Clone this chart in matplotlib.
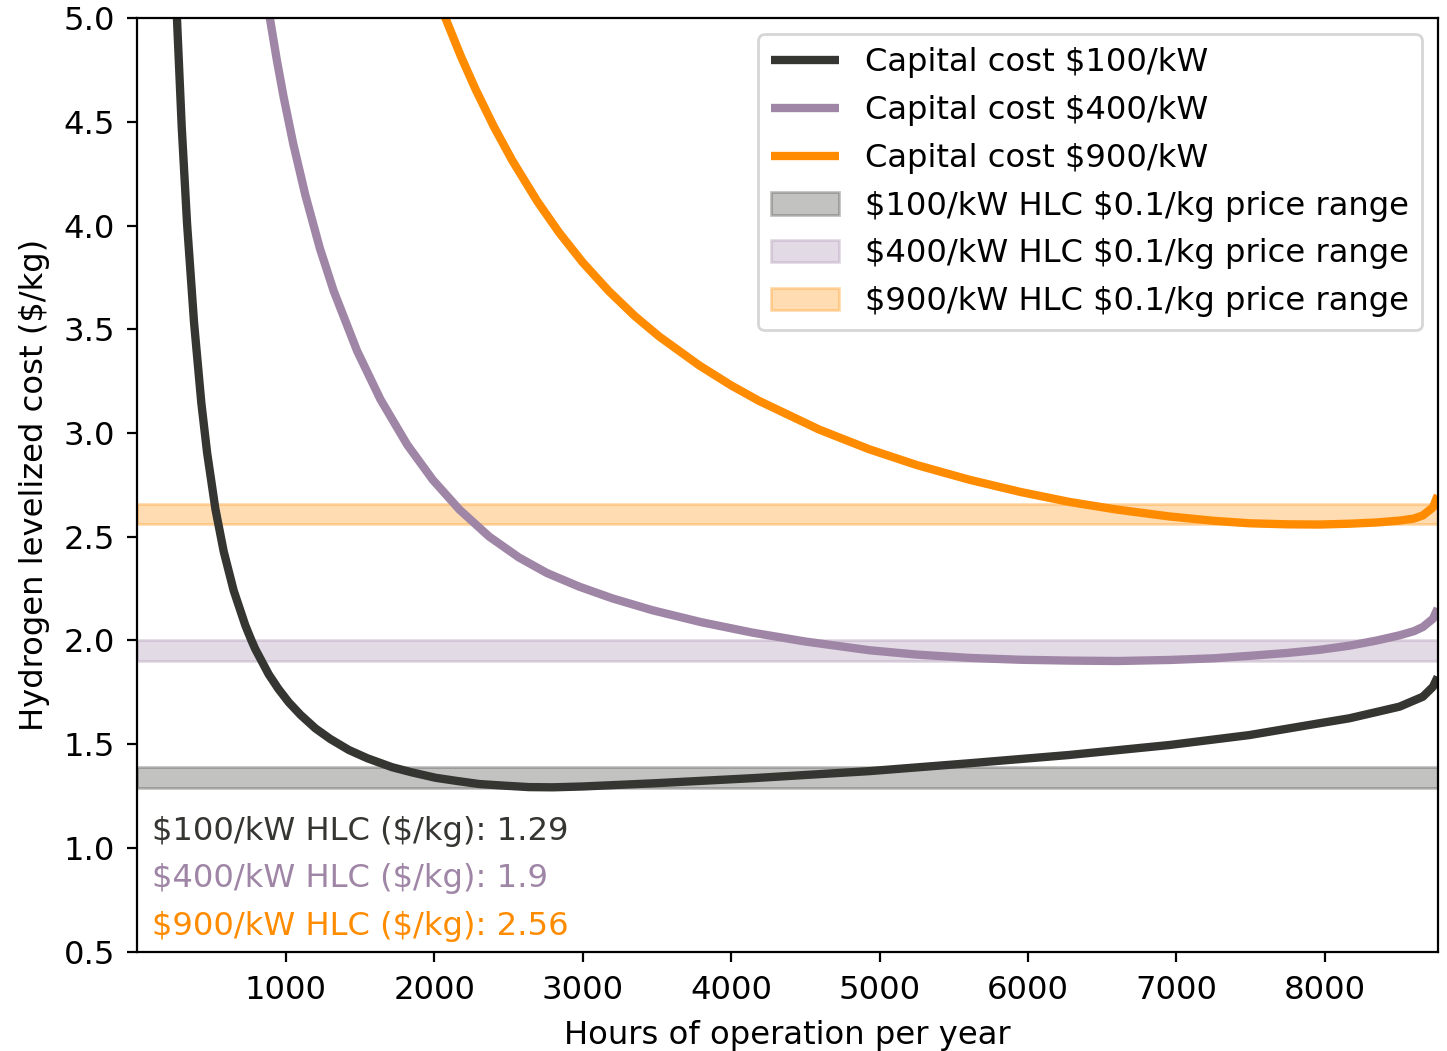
import matplotlib
matplotlib.use("Agg")
import matplotlib.pyplot as plt

# ---- data ----
hours_100 = [240, 267, 299, 335, 382, 431, 470, 526, 582, 649, 728, 769, 795, 885, 950,
             1020, 1100, 1200, 1300, 1425, 1550, 1716, 1850, 2009, 2150, 2301, 2450, 2638,
             2800, 3000, 3469, 4143, 4930, 5605, 6279, 6953, 7492, 7964, 8166, 8503, 8660,
             8728, 8760]
hlc_100 = [5.55, 5.00, 4.478, 4.011, 3.534, 3.147, 2.906, 2.634, 2.429, 2.241, 2.072, 2.00,
           1.958, 1.837, 1.767, 1.702, 1.641, 1.576, 1.525, 1.472, 1.432, 1.389, 1.364,
           1.338, 1.323, 1.308, 1.301, 1.293, 1.292, 1.296, 1.311, 1.336, 1.37, 1.408,
           1.448, 1.496, 1.544, 1.601, 1.625, 1.681, 1.729, 1.777, 1.825]

hours_400 = [860, 893, 940, 986, 1050, 1132, 1230, 1323, 1480, 1638, 1818, 1990, 2170,
             2370, 2571, 2760, 2975, 3200, 3469, 3800, 4143, 4500, 4930, 5250, 5605, 5950,
             6279, 6600, 6953, 7250, 7492, 7750, 7964, 8166, 8350, 8503, 8600, 8660, 8728,
             8760]
hlc_400 = [5.14, 5.00, 4.798, 4.619, 4.396, 4.147, 3.89, 3.685, 3.397, 3.162, 2.944, 2.775,
           2.631, 2.501, 2.40, 2.325, 2.26, 2.203, 2.146, 2.088, 2.038, 1.995, 1.953, 1.932,
           1.916, 1.907, 1.903, 1.901, 1.906, 1.914, 1.926, 1.94, 1.955, 1.975, 2.0, 2.025,
           2.045, 2.065, 2.105, 2.155]

hours_900 = [2000, 2076, 2180, 2279, 2400, 2526, 2694, 2840, 3000, 3177, 3350, 3515, 3784,
             4000, 4189, 4593, 4930, 5250, 5605, 5950, 6279, 6600, 6953, 7250, 7492, 7750,
             7964, 8166, 8350, 8503, 8600, 8660, 8728, 8760]
hlc_900 = [5.146, 5.00, 4.816, 4.657, 4.48, 4.314, 4.118, 3.968, 3.823, 3.684, 3.565, 3.466,
           3.327, 3.23, 3.155, 3.017, 2.922, 2.846, 2.775, 2.716, 2.668, 2.631, 2.598,
           2.577, 2.565, 2.560, 2.559, 2.563, 2.569, 2.578, 2.588, 2.603, 2.642, 2.70]

capex_labels = ["\\$100/kW", "\\$400/kW", "\\$900/kW"]
min_hlc = [1.29, 1.9, 2.56]
band_width = 0.1
colors = ["#353531", "#a086a6", "#ff8c00"]

x_min, x_max = 1, 8760
y_min, y_max = 0.5, 5.0
x_ticks = [1000, 2000, 3000, 4000, 5000, 6000, 7000, 8000]
y_ticks = [0.5, 1.0, 1.5, 2.0, 2.5, 3.0, 3.5, 4.0, 4.5, 5.0]

# ---- plotting ----
FS = 11.6
plt.rcParams["font.family"] = ["DejaVu Sans"]
plt.rcParams["font.size"] = FS

fig = plt.figure(figsize=(7.235, 5.255), dpi=200)
ax = fig.add_axes([0.0950, 0.0946, 0.9936 - 0.0950, 0.9826 - 0.0946])

series = [(hours_100, hlc_100), (hours_400, hlc_400), (hours_900, hlc_900)]
for (h, v), lab, c in zip(series, capex_labels, colors):
    ax.plot(h, v, color=c, lw=3, label="Capital cost " + lab,
            solid_capstyle="butt", solid_joinstyle="round")

xs = [x_min, x_max]
for lab, m, c in zip(capex_labels, min_hlc, colors):
    ax.fill_between(xs, [m, m], [m + band_width, m + band_width], color=c, alpha=0.3,
                    label=f"{lab} HLC \\$0.1/kg price range")

ax.set_xlim(x_min, x_max)
ax.set_ylim(y_min, y_max)
ax.set_xticks(x_ticks)
ax.set_yticks(y_ticks)
ax.set_yticklabels([f"{t:.1f}" for t in y_ticks])
ax.tick_params(axis="x", labelsize=FS, pad=5)
ax.tick_params(axis="y", labelsize=FS, pad=4.5)
ax.set_xlabel("Hours of operation per year", fontsize=FS, labelpad=5)
ax.set_ylabel("Hydrogen levelized cost (\\$/kg)", fontsize=FS, labelpad=5)

ax.legend(loc="upper right", fontsize=FS, labelspacing=0.52, handlelength=2.1)

text_y = [0.1282, 0.0778, 0.0274]
for lab, m, c, ty in zip(capex_labels, min_hlc, colors, text_y):
    ax.text(0.011, ty, f"{lab} HLC (\\$/kg): {m}", transform=ax.transAxes, color=c,
            fontsize=FS, va="center", ha="left")

fig.savefig("out.png", dpi=200)
